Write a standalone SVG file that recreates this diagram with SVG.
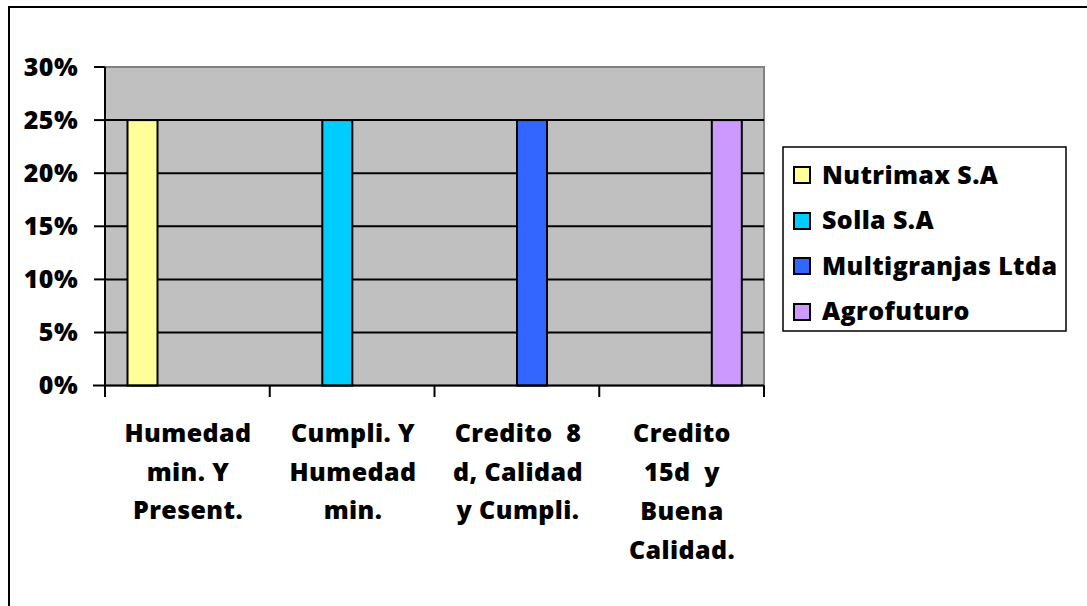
<svg xmlns="http://www.w3.org/2000/svg" width="1087" height="606" viewBox="0 0 1087 606">
<style>
.t{font-family:"Open Sans","Liberation Sans",sans-serif;font-weight:800;font-size:25px;letter-spacing:0.4px;fill:#000;white-space:pre}
.ya{text-anchor:end}
.xa{text-anchor:middle}
.grid{stroke:#000;stroke-width:2}
.bar{stroke:#000;stroke-width:2}
.sw{stroke:#000;stroke-width:2}
</style>
<rect x="0" y="0" width="1087" height="606" fill="#fff"/>
<g id="frame">
<path d="M9,620 L9,7 L1100,7" fill="none" stroke="#000" stroke-width="2"/>
</g>
<g id="plot">
<rect x="105" y="67" width="659" height="318.6" fill="#C0C0C0" stroke="#808080" stroke-width="2"/>
<g class="grid">
<line x1="105" y1="120.1" x2="764" y2="120.1"/>
<line x1="105" y1="173.2" x2="764" y2="173.2"/>
<line x1="105" y1="226.3" x2="764" y2="226.3"/>
<line x1="105" y1="279.4" x2="764" y2="279.4"/>
<line x1="105" y1="332.5" x2="764" y2="332.5"/>
</g>
</g>
<g id="bars">
<rect id="bar-nutrimax" class="bar" x="127.5" y="120.1" width="30" height="265.5" fill="#FFFF99"/>
<rect id="bar-solla" class="bar" x="322.3" y="120.1" width="30" height="265.5" fill="#00CCFF"/>
<rect id="bar-multigranjas" class="bar" x="517" y="120.1" width="30" height="265.5" fill="#3366FF"/>
<rect id="bar-agrofuturo" class="bar" x="711.8" y="120.1" width="30" height="265.5" fill="#CC99FF"/>
</g>
<g id="axes" stroke="#000" stroke-width="2">
<line x1="105" y1="67" x2="105" y2="397"/>
<line x1="93" y1="385.6" x2="764" y2="385.6"/>
<line x1="94" y1="67" x2="105" y2="67"/>
<line x1="94" y1="120.1" x2="105" y2="120.1"/>
<line x1="94" y1="173.2" x2="105" y2="173.2"/>
<line x1="94" y1="226.3" x2="105" y2="226.3"/>
<line x1="94" y1="279.4" x2="105" y2="279.4"/>
<line x1="94" y1="332.5" x2="105" y2="332.5"/>
<line x1="269.75" y1="385.6" x2="269.75" y2="397"/>
<line x1="434.5" y1="385.6" x2="434.5" y2="397"/>
<line x1="599.25" y1="385.6" x2="599.25" y2="397"/>
<line x1="764" y1="385.6" x2="764" y2="397"/>
</g>
<g id="y-labels">
<text class="t ya" x="78" y="76">30%</text>
<text class="t ya" x="78" y="129">25%</text>
<text class="t ya" x="78" y="182">20%</text>
<text class="t ya" x="78" y="235">15%</text>
<text class="t ya" x="78" y="288">10%</text>
<text class="t ya" x="78" y="341">5%</text>
<text class="t ya" x="78" y="394">0%</text>
</g>
<g id="x-labels">
<text class="t xa" x="188" y="442"><tspan x="188">Humedad</tspan><tspan x="188" y="480.5">min. Y</tspan><tspan x="188" y="519">Present.</tspan></text>
<text class="t xa" x="353" y="442"><tspan x="353">Cumpli. Y</tspan><tspan x="353" y="480.5">Humedad</tspan><tspan x="353" y="519">min.</tspan></text>
<text class="t xa" x="518" y="442"><tspan x="518">Credito  8</tspan><tspan x="518" y="480.5">d, Calidad</tspan><tspan x="518" y="519">y Cumpli.</tspan></text>
<text class="t xa" x="682" y="442"><tspan x="682">Credito</tspan><tspan x="682" y="481">15d  y</tspan><tspan x="682" y="520">Buena</tspan><tspan x="682" y="559">Calidad.</tspan></text>
</g>
<g id="legend">
<rect x="783" y="147" width="283" height="184" fill="#fff" stroke="#000" stroke-width="1.5"/>
<g id="leg-nutrimax"><rect class="sw" x="794" y="167" width="16" height="16" fill="#FFFF99"/><text class="t" x="822" y="183.5">Nutrimax S.A</text></g>
<g id="leg-solla"><rect class="sw" x="794" y="213" width="16" height="16" fill="#00CCFF"/><text class="t" x="822" y="229">Solla S.A</text></g>
<g id="leg-multigranjas"><rect class="sw" x="794" y="258" width="16" height="16" fill="#3366FF"/><text class="t" x="822" y="274.5">Multigranjas Ltda</text></g>
<g id="leg-agrofuturo"><rect class="sw" x="794" y="304" width="16" height="16" fill="#CC99FF"/><text class="t" x="822" y="320">Agrofuturo</text></g>
</g>
<g id="connectors"/>
</svg>
